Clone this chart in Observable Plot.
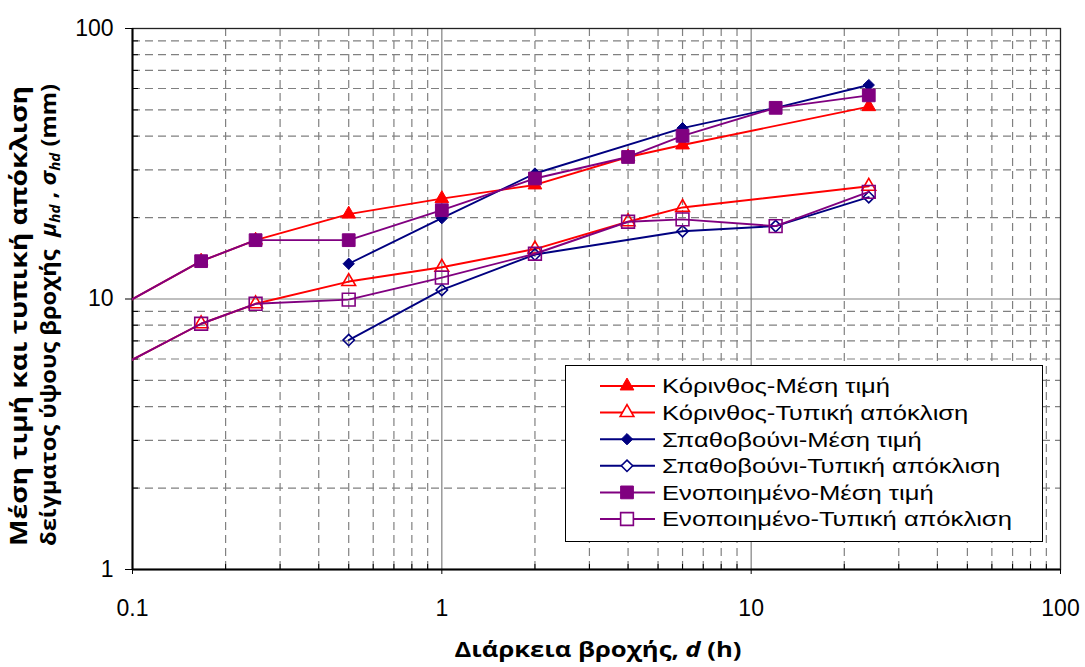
<!DOCTYPE html>
<html>
<head>
<meta charset="utf-8">
<script src="https://cdn.jsdelivr.net/npm/d3@7"></script>
<script src="https://cdn.jsdelivr.net/npm/@observablehq/plot@0.6"></script>
<style>
  html, body { margin: 0; padding: 0; background: #fff; }
  svg { font-family: "Liberation Sans", Arial, sans-serif; }
</style>
</head>
<body>
<script>
// ---- data ----
const korDur = [1/12, 1/6, 0.25, 0.5, 1, 2, 4, 6, 24];
const korMean = [8.9, 13.8, 16.5, 20.6, 23.5, 26.4, 33.5, 37.1, 51.4];
const korStd = [5.35, 8.1, 9.6, 11.6, 13.1, 15.3, 19.3, 21.8, 26.1];

const spaDur = [0.5, 1, 2, 6, 12, 24];
const spaMean = [13.5, 19.9, 29.1, 42.8, 50.9, 61.8];
const spaStd = [7.05, 10.8, 14.6, 17.8, 18.6, 23.8];

const uniDur = [1/12, 1/6, 0.25, 0.5, 1, 2, 4, 6, 12, 24];
const uniMean = [8.9, 13.8, 16.5, 16.5, 21.3, 27.9, 33.5, 40.1, 50.9, 56.6];
const uniStd = [5.35, 8.1, 9.6, 9.95, 12.0, 14.7, 19.3, 19.7, 18.6, 24.9];

const seriesNames = [
  "Κόρινθος-Μέση τιμή",
  "Κόρινθος-Τυπική απόκλιση",
  "Σπαθοβούνι-Μέση τιμή",
  "Σπαθοβούνι-Τυπική απόκλιση",
  "Ενοποιημένο-Μέση τιμή",
  "Ενοποιημένο-Τυπική απόκλιση"
];
const seriesColors = ["#ff0000", "#ff0000", "#000080", "#000080", "#800080", "#800080"];
const seriesSymbols = ["triangle", "triangle", "diamond2", "diamond2", "square", "square"];
const seriesFilled = [true, false, true, false, true, false];

const xTicks = [0.1, 1, 10, 100];
const xTickLabels = ["0.1", "1", "10", "100"];
const yTicks = [1, 10, 100];
const yTickLabels = ["1", "10", "100"];
const xMinor = [0.2,0.3,0.4,0.5,0.6,0.7,0.8,0.9, 2,3,4,5,6,7,8,9, 20,30,40,50,60,70,80,90];
const yMinor = [2,3,4,5,6,7,8,9, 20,30,40,50,60,70,80,90];
const xMajorGrid = [1, 10];
const yMajorGrid = [10];

const xTitle = "Διάρκεια βροχής, ";
const yTitle1 = "Μέση τιμή και τυπική απόκλιση";
const yTitle2 = "δείγματος ύψους βροχής  ";

// ---- build series table ----
const raw = [
  [korDur, korMean], [korDur, korStd],
  [spaDur, spaMean], [spaDur, spaStd],
  [uniDur, uniMean], [uniDur, uniStd]
];
const series = raw.map(([xs, ys], i) => ({
  name: seriesNames[i], color: seriesColors[i], symbol: seriesSymbols[i], filled: seriesFilled[i],
  data: xs.map((x, j) => ({x, y: ys[j]}))
}));

const sizeOf = s => s === "square" ? 7.2 : 5.1;

const marks = [
  Plot.ruleX(xMinor, {stroke: "#808080", strokeDasharray: "8,5", strokeWidth: 1.2}),
  Plot.ruleY(yMinor, {stroke: "#808080", strokeDasharray: "8,5", strokeWidth: 1.2}),
  Plot.ruleX(xMajorGrid, {stroke: "#808080", strokeWidth: 1.2}),
  Plot.ruleY(yMajorGrid, {stroke: "#808080", strokeWidth: 1.2}),
  Plot.frame({stroke: "#222", strokeWidth: 1.3}),
  Plot.ruleX([xTicks[0]], {stroke: "#000", strokeWidth: 2}),
  Plot.ruleY([yTicks[0]], {stroke: "#000", strokeWidth: 2}),
  Plot.axisY({ticks: yTicks, tickFormat: d => yTickLabels[yTicks.indexOf(d)], tickSize: 7, tickPadding: 12, fontSize: 23, label: null}),
  Plot.axisY({ticks: yMinor, tickFormat: () => "", tickSize: 6, dx: 6, label: null}),
  Plot.axisX({ticks: xTicks, tickFormat: d => xTickLabels[xTicks.indexOf(d)], tickSize: 5, tickPadding: 25, fontSize: 23, label: null}),
  Plot.axisX({ticks: xMinor, tickFormat: () => "", tickSize: 5, dy: -5, label: null})
];

for (const s of series) {
  marks.push(Plot.line(s.data, {x: "x", y: "y", stroke: s.color, strokeWidth: 1.9, clip: true}));
  marks.push(Plot.dot(s.data, {
    x: "x", y: "y", symbol: () => s.symbol, r: sizeOf(s.symbol), clip: true,
    fill: s.filled ? s.color : "none", stroke: s.color, strokeWidth: s.filled ? 1 : 1.6
  }));
}

const chart = Plot.plot({
  width: 1085, height: 667,
  marginLeft: 132, marginRight: 25, marginTop: 28, marginBottom: 98,
  x: {type: "log", domain: [0.1, 100], label: null},
  y: {type: "log", domain: [1, 100], label: null},
  symbol: {type: "identity"},
  style: {fontFamily: "Liberation Sans, Arial, sans-serif", fontSize: "23px", color: "#000", background: "#fff"},
  marks
});
document.body.appendChild(chart);

// ---- titles ----
const svg = d3.select(chart);
const titleFont = "Open Sans, Noto Sans, sans-serif";
const xt = svg.append("text")
  .attr("x", 598).attr("y", 657)
  .attr("text-anchor", "middle")
  .attr("font-family", titleFont)
  .attr("font-weight", "bold").attr("font-size", 22).attr("fill", "#000")
  .attr("textLength", 287).attr("lengthAdjust", "spacingAndGlyphs");
xt.append("tspan").text(xTitle);
xt.append("tspan").attr("font-style", "italic").text("d");
xt.append("tspan").text(" (h)");

svg.append("text")
  .attr("transform", "translate(27,316) rotate(-90)")
  .attr("text-anchor", "middle")
  .attr("font-family", titleFont)
  .attr("font-weight", "bold").attr("font-size", 24).attr("fill", "#000")
  .attr("textLength", 460).attr("lengthAdjust", "spacingAndGlyphs")
  .text(yTitle1);

const yt2 = svg.append("text")
  .attr("transform", "translate(56,315) rotate(-90)")
  .attr("text-anchor", "middle")
  .attr("font-family", titleFont)
  .attr("font-weight", "bold").attr("font-size", 22).attr("fill", "#000")
  .attr("textLength", 462).attr("lengthAdjust", "spacingAndGlyphs");
yt2.append("tspan").text(yTitle2);
yt2.append("tspan").attr("font-style", "italic").text("μ");
yt2.append("tspan").attr("font-style", "italic").attr("font-size", 14).attr("dy", 4).text("hd");
yt2.append("tspan").attr("dy", -4).text(" , ");
yt2.append("tspan").attr("font-style", "italic").text("σ");
yt2.append("tspan").attr("font-style", "italic").attr("font-size", 14).attr("dy", 4).text("hd");
yt2.append("tspan").attr("dy", -4).text(" (mm)");

// ---- legend ----
const lg = svg.append("g");
lg.append("rect").attr("x", 565.5).attr("y", 365.5).attr("width", 477).attr("height", 176)
  .attr("fill", "#fff").attr("stroke", "#000").attr("stroke-width", 1);
const symMap = {triangle: d3.symbolTriangle, diamond2: d3.symbolDiamond2, square: d3.symbolSquare};
series.forEach((s, i) => {
  const y = 386 + i * 26.6;
  lg.append("line").attr("x1", 600).attr("x2", 655).attr("y1", y).attr("y2", y)
    .attr("stroke", s.color).attr("stroke-width", 2);
  const r = sizeOf(s.symbol);
  lg.append("path").attr("d", d3.symbol(symMap[s.symbol], Math.PI * r * r)())
    .attr("transform", `translate(627,${y})`)
    .attr("fill", s.filled ? s.color : "#fff").attr("stroke", s.color).attr("stroke-width", s.filled ? 1 : 1.6);
  lg.append("text").attr("transform", `translate(662,${y}) scale(1.22,1)`).attr("dy", "0.35em")
    .attr("text-anchor", "start")
    .attr("font-size", 21).attr("fill", "#000").text(s.name);
});
</script>
</body>
</html>
